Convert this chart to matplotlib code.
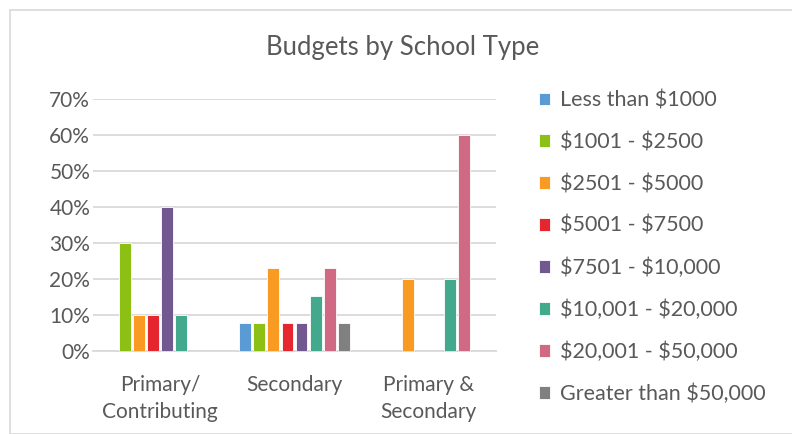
import numpy as np
import matplotlib
matplotlib.use("Agg")
import matplotlib.pyplot as plt
from matplotlib.patches import Rectangle
from matplotlib.ticker import FuncFormatter

categories = ["Primary/\nContributing", "Secondary", "Primary &\nSecondary"]
series = ["Less than \\$1000", "\\$1001 - \\$2500", "\\$2501 - \\$5000", "\\$5001 - \\$7500",
          "\\$7501 - \\$10,000", "\\$10,001 - \\$20,000", "\\$20,001 - \\$50,000",
          "Greater than \\$50,000"]
# percent values per series, one per category
less_1000 = [0, 7.69, 0]
b1001_2500 = [30, 7.69, 0]
b2501_5000 = [10, 23.08, 20]
b5001_7500 = [10, 7.69, 0]
b7501_10000 = [40, 7.69, 0]
b10001_20000 = [10, 15.38, 20]
b20001_50000 = [0, 23.08, 60]
greater_50000 = [0, 7.69, 0]
values = [less_1000, b1001_2500, b2501_5000, b5001_7500,
          b7501_10000, b10001_20000, b20001_50000, greater_50000]
colors = ["#5B9BD5", "#8CC014", "#F99B22", "#E5262E",
          "#715890", "#42A98C", "#D06A84", "#808080"]

plt.rcParams['font.family'] = ['Lato', 'DejaVu Sans']
txt = '#595959'

fig = plt.figure(figsize=(7.92, 4.34), dpi=100)
fig.patches.append(Rectangle((10/792, 0), 1.2, 1 - 10/434, transform=fig.transFigure,
                             fill=False, edgecolor='#d9d9d9', lw=1.2))

ax = fig.add_axes([93/792, 1 - 351/434, (496 - 93)/792, (351 - 99)/434])

x = np.arange(len(categories))
pitch = 0.105
width = 0.088
for i, (name, vals, c) in enumerate(zip(series, values, colors)):
    offs = (i - 3.5) * pitch
    ax.bar(x + offs, vals, width, color=c, label=name, edgecolor='white', linewidth=0.6, zorder=3)

ax.set_xlim(-0.5, 2.5)
ax.set_ylim(0, 70)
ax.set_yticks(range(0, 71, 10))
ax.yaxis.set_major_formatter(FuncFormatter(lambda v, p: f"{int(v)}%"))
ax.set_xticks(x)
ax.set_xticklabels(categories, linespacing=1.45)
ax.tick_params(axis='both', length=0, labelsize=15, colors=txt)
ax.tick_params(axis='y', pad=2)
ax.tick_params(axis='x', pad=17)
ax.grid(axis='y', color='#d9d9d9', lw=1.3, zorder=0)
for s in ['top', 'right', 'left']:
    ax.spines[s].set_visible(False)
ax.spines['bottom'].set_color('#d9d9d9')
ax.spines['bottom'].set_linewidth(1.3)

fig.text(403/792, 1 - 48/434, "Budgets by School Type", ha='center', va='center',
         fontsize=18.5, color=txt)

leg = fig.legend(loc='upper left', bbox_to_anchor=(530/792, 1 - 82/434), frameon=False,
                 fontsize=15.5, labelspacing=1.01, handlelength=0.55, handleheight=0.55,
                 handletextpad=0.45, labelcolor=txt, borderaxespad=0)

fig.savefig("out.png", dpi=100)
